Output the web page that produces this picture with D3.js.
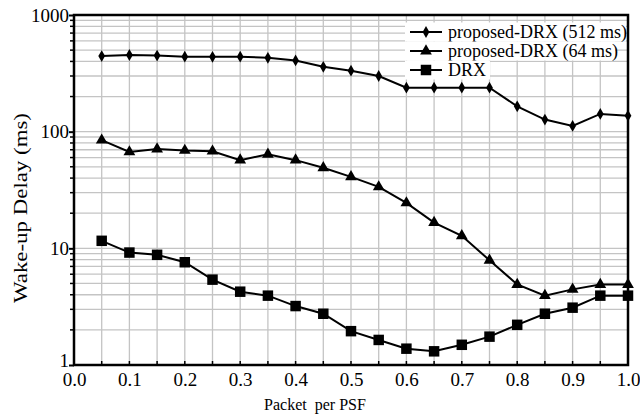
<!DOCTYPE html>
<html>
<head>
<meta charset="utf-8">
<script src="https://cdn.jsdelivr.net/npm/d3@7"></script>
<style>
  body { margin: 0; background: #fff; }
  svg text { font-family: "Liberation Serif", "Times New Roman", Times, serif !important; fill: #000; }
</style>
</head>
<body>
<div id="chart"></div>
<script>
// data
var xValues = [0.05, 0.1, 0.15, 0.2, 0.25, 0.3, 0.35, 0.4, 0.45, 0.5,
               0.55, 0.6, 0.65, 0.7, 0.75, 0.8, 0.85, 0.9, 0.95, 1.0];
var drx512 = [445, 454, 449, 439, 438, 439, 430, 408, 360, 333,
              300, 238, 238, 238, 238, 165, 127, 112, 142, 137];
var drx64 = [84.5, 67, 71, 69, 68, 57, 64, 57, 49, 41,
             33.6, 24.5, 16.6, 12.8, 7.9, 4.9, 3.93, 4.45, 4.9, 4.9];
var drx = [11.6, 9.2, 8.8, 7.6, 5.39, 4.25, 3.93, 3.2, 2.75, 1.95,
           1.64, 1.38, 1.31, 1.49, 1.75, 2.21, 2.75, 3.1, 3.93, 3.93];
var seriesNames = ["proposed-DRX (512 ms)", "proposed-DRX (64 ms)", "DRX"];
var xTickLabels = ["0.0", "0.1", "0.2", "0.3", "0.4", "0.5", "0.6", "0.7", "0.8", "0.9", "1.0"];
var yTickLabels = ["1", "10", "100", "1000"];

var serif = '"Liberation Serif", "Times New Roman", Times, serif';

var svgWidth = 640;
var svgHeight = 419;
var margin = { top: 15, right: 12, bottom: 54, left: 74 };
var width = svgWidth - margin.left - margin.right;
var height = svgHeight - margin.top - margin.bottom;

var svg = d3.select("#chart").append("svg")
  .attr("width", svgWidth)
  .attr("height", svgHeight)
  .style("font-family", serif);

var chartGroup = svg.append("g")
  .attr("transform", `translate(${margin.left}, ${margin.top})`);

var xScale = d3.scaleLinear().domain([0, 1]).range([0, width]);
var yScale = d3.scaleLog().domain([1, 1000]).range([height, 0]);

// grid
var xGrid = d3.range(1, 20).map(function (i) { return i * 0.05; });
var yGrid = [];
[1, 10, 100].forEach(function (d) {
  for (var k = 1; k <= 9; k++) { if (d * k > 1) yGrid.push(d * k); }
});

chartGroup.selectAll(".vgrid").data(xGrid).enter()
  .append("line")
  .attr("x1", (d) => xScale(d)).attr("x2", (d) => xScale(d))
  .attr("y1", 0).attr("y2", height)
  .attr("stroke", "#c4c4c4").attr("stroke-width", 1.3);

chartGroup.selectAll(".hgrid").data(yGrid).enter()
  .append("line")
  .attr("x1", 0).attr("x2", width)
  .attr("y1", (d) => yScale(d)).attr("y2", (d) => yScale(d))
  .attr("stroke", "#c4c4c4").attr("stroke-width", 1.3);

// series
var allSeries = [
  { name: seriesNames[0], values: drx512, marker: "diamond" },
  { name: seriesNames[1], values: drx64, marker: "triangle" },
  { name: seriesNames[2], values: drx, marker: "square" }
];

function markerPath(type) {
  if (type === "diamond") return d3.symbol().type(d3.symbolDiamond).size(40)();
  if (type === "triangle") return d3.symbol().type(d3.symbolTriangle).size(60)();
  return d3.symbol().type(d3.symbolSquare).size(110)();
}

var line = d3.line()
  .x((d) => xScale(d.x))
  .y((d) => yScale(d.y));

allSeries.forEach(function (s) {
  var pts = xValues.map(function (x, i) { return { x: x, y: s.values[i] }; });
  chartGroup.append("path")
    .datum(pts)
    .attr("d", line)
    .attr("fill", "none")
    .attr("stroke", "#000")
    .attr("stroke-width", 2);
  chartGroup.selectAll(null).data(pts).enter()
    .append("path")
    .attr("d", markerPath(s.marker))
    .attr("transform", (d) => `translate(${xScale(d.x)}, ${yScale(d.y)})`)
    .attr("fill", "#000");
});

// legend (each entry has its own white box)
var legendRows = [
  { y: 17, right: 552 },
  { y: 36, right: 541 },
  { y: 55, right: 416 }
];
var legend = chartGroup.append("g");
allSeries.forEach(function (s, i) {
  var row = legendRows[i];
  legend.append("rect")
    .attr("x", 331).attr("y", row.y - 9.5)
    .attr("width", row.right - 331).attr("height", 19)
    .attr("fill", "#fff");
  legend.append("line")
    .attr("x1", 336).attr("x2", 368)
    .attr("y1", row.y).attr("y2", row.y)
    .attr("stroke", "#000").attr("stroke-width", 2);
  legend.append("path")
    .attr("d", markerPath(s.marker))
    .attr("transform", `translate(352, ${row.y})`)
    .attr("fill", "#000");
  legend.append("text")
    .attr("x", 374).attr("y", row.y + 6)
    .attr("font-size", "18px")
    .text(s.name);
});

// axes
var xAxis = d3.axisBottom(xScale)
  .tickValues(d3.range(0, 11).map((i) => i / 10))
  .tickFormat((d, i) => xTickLabels[i])
  .tickSize(0).tickPadding(8);
var xAxisG = chartGroup.append("g")
  .attr("transform", `translate(0, ${height})`)
  .call(xAxis);
xAxisG.attr("font-family", null);
xAxisG.select(".domain").remove();
xAxisG.selectAll("text")
  .attr("font-size", "19px")
  .style("font-family", serif)
  .attr("fill", "#000");

chartGroup.selectAll(".xtick").data(d3.range(0, 21).map((i) => i * 0.05)).enter()
  .append("line")
  .attr("x1", (d) => xScale(d)).attr("x2", (d) => xScale(d))
  .attr("y1", height).attr("y2", height - 4)
  .attr("stroke", "#000").attr("stroke-width", 1.5);

var yAxis = d3.axisLeft(yScale)
  .tickValues([1, 10, 100, 1000])
  .tickFormat((d, i) => yTickLabels[i])
  .tickSize(5).tickPadding(0);
var yAxisG = chartGroup.append("g").call(yAxis);
yAxisG.attr("font-family", null);
yAxisG.select(".domain").remove();
yAxisG.selectAll("line").attr("stroke", "#000").attr("stroke-width", 2);
yAxisG.selectAll("text")
  .attr("font-size", "19px")
  .attr("dy", (d) => (d === 1 ? "0.1em" : "0.32em"))
  .style("font-family", serif)
  .attr("fill", "#000");

chartGroup.selectAll(".yminor").data(yGrid.filter((d) => [10, 100].indexOf(d) < 0)).enter()
  .append("line")
  .attr("x1", 0).attr("x2", -4)
  .attr("y1", (d) => yScale(d)).attr("y2", (d) => yScale(d))
  .attr("stroke", "#000").attr("stroke-width", 1.5);

// frame
chartGroup.append("rect")
  .attr("x", 0).attr("y", 0)
  .attr("width", width).attr("height", height)
  .attr("fill", "none")
  .attr("stroke", "#000")
  .attr("stroke-width", 2.5);

// axis labels
chartGroup.append("text")
  .attr("transform", "rotate(-90)")
  .attr("x", -(208 - margin.top))
  .attr("y", -margin.left + 27)
  .attr("text-anchor", "middle")
  .attr("font-size", "19px")
  .attr("textLength", 190)
  .attr("lengthAdjust", "spacingAndGlyphs")
  .style("font-family", serif)
  .text("Wake-up Delay (ms)");

chartGroup.append("text")
  .attr("x", 315 - margin.left)
  .attr("y", 410 - margin.top)
  .attr("text-anchor", "middle")
  .attr("font-size", "16px")
  .style("font-family", serif)
  .style("white-space", "pre")
  .text("Packet  per PSF");
</script>
</body>
</html>
